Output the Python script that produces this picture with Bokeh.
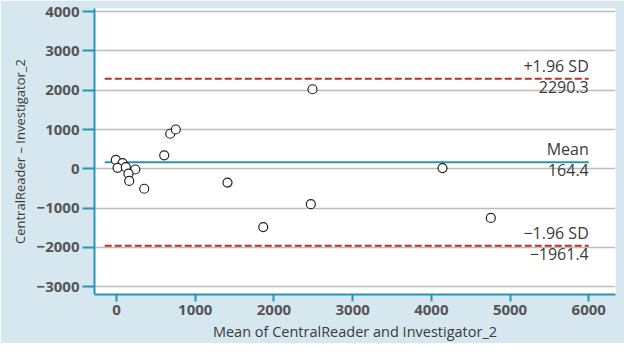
from bokeh.plotting import figure
from bokeh.models import Range1d, ColumnDataSource, FixedTicker
from bokeh.core.properties import value
from bokeh.embed import file_html
from bokeh.resources import INLINE

# Data
mean_x = [-9, 76, 13, 118, 238, 152, 161, 352, 606, 682, 753, 1410, 1864, 2469, 2490, 4142, 4756]
diff_y = [225, 142, 25, 42, -18, -125, -308, -508, 342, 892, 1000, -350, -1483, -900, 2025, 17, -1250]

upper_loa = 2290.3
mean_diff = 164.4
lower_loa = -1961.4
line_x = [-150, 6000]

y_ticks = [-3000, -2000, -1000, 0, 1000, 2000, 3000, 4000]
y_tick_labels = ["\u22123000", "\u22122000", "\u22121000", "0", "1000", "2000", "3000", "4000"]
x_ticks = [0, 1000, 2000, 3000, 4000, 5000, 6000]
x_tick_labels = ["0", "1000", "2000", "3000", "4000", "5000", "6000"]

line_labels_top = ["+1.96 SD", "Mean", "\u22121.96 SD"]
line_labels_bottom = ["2290.3", "164.4", "\u22121961.4"]
line_levels = [upper_loa, mean_diff, lower_loa]

FONT = "Open Sans"
TEAL = "#2596b4"
TXT = "#3a3a3a"
BG = "#d6e7f0"

p = figure(width=624, height=343, output_backend="svg", toolbar_location=None,
           x_range=Range1d(-280, 6340), y_range=Range1d(-3200, 4080),
           min_border_left=94, min_border_right=9, min_border_top=8, min_border_bottom=49)
p.border_fill_color = BG
p.background_fill_color = "white"
p.outline_line_color = None

# grid
p.xgrid.visible = False
p.ygrid.ticker = FixedTicker(ticks=y_ticks)
p.ygrid.grid_line_color = "#bdbdbd"
p.ygrid.grid_line_width = 1.5

# axes
for ax in (p.xaxis[0], p.yaxis[0]):
    ax.axis_line_color = TEAL
    ax.axis_line_width = 2
    ax.major_tick_line_color = TEAL
    ax.major_tick_line_width = 2
    ax.minor_tick_line_color = None
    ax.major_tick_in = 0
    ax.major_label_text_font = FONT
    ax.major_label_text_font_size = "15px"
    ax.major_label_text_font_style = "bold"
    ax.major_label_text_color = "#555555"
    ax.axis_label_text_font = FONT
    ax.axis_label_text_font_style = "normal"
    ax.axis_label_text_color = TXT

p.yaxis.ticker = FixedTicker(ticks=y_ticks)
p.yaxis.major_label_overrides = dict(zip(y_ticks, y_tick_labels))
p.yaxis.major_tick_out = 12
p.yaxis.major_label_standoff = 3
p.yaxis.axis_label = "CentralReader \u2013 Investigator_2"
p.yaxis.axis_label_text_font_size = "13px"
p.yaxis.axis_label_standoff = 5

p.xaxis.ticker = FixedTicker(ticks=x_ticks)
p.xaxis.major_label_overrides = dict(zip(x_ticks, x_tick_labels))
p.xaxis.major_tick_out = 7
p.xaxis.major_label_standoff = 3
p.xaxis.axis_label = "Mean of CentralReader and Investigator_2"
p.xaxis.axis_label_text_font_size = "14.5px"
p.xaxis.axis_label_standoff = 4

# reference lines
p.line(line_x, [upper_loa, upper_loa], line_color="#b8322a", line_width=2, line_dash="7 3")
p.line(line_x, [lower_loa, lower_loa], line_color="#b8322a", line_width=2, line_dash="7 3")
p.line(line_x, [mean_diff, mean_diff], line_color=TEAL, line_width=2)

# points
src = ColumnDataSource(dict(x=mean_x, y=diff_y))
p.scatter("x", "y", source=src, size=9, fill_color="white", line_color="#222222", line_width=1.2)

# labels
lab_x = [line_x[1]] * 3
p.text(x=lab_x, y=line_levels, text=line_labels_top, text_align="right", text_baseline="bottom",
       y_offset=-2, text_font=value(FONT), text_font_size="16px", text_color=TXT)
p.text(x=lab_x, y=line_levels, text=line_labels_bottom, text_align="right", text_baseline="top",
       y_offset=2, text_font=value(FONT), text_font_size="16px", text_color=TXT)

open("out.html", "w").write(file_html(p, INLINE))
